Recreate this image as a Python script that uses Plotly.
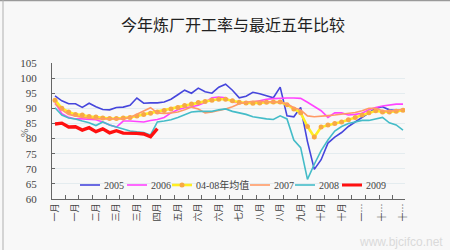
import plotly.graph_objects as go

# ---------------- data ----------------
WEEKS = list(range(1, 53))

Y2005 = [94.1, 92.5, 91.5, 91.5, 90.3, 91.7, 90.5, 89.6, 89.5, 90.3,
         90.4, 91.0, 93.4, 91.7, 91.8, 91.8, 92.1, 93.0, 94.5, 96.0,
         95.0, 96.7, 95.5, 95.0, 97.0, 98.0, 96.0, 93.5, 94.0, 95.3,
         94.8, 94.2, 93.5, 97.0, 87.5, 87.2, 90.3, 79.0, 69.8, 73.0,
         78.5, 80.5, 82.0, 84.0, 85.5, 87.0, 88.5, 90.0, 90.5, 89.5,
         89.3, 89.5]

Y2006 = [92.0, 88.2, 87.0, 86.5, 86.5, 86.3, 86.2, 85.5, 84.5, 83.8,
         85.8, 85.8, 85.6, 85.5, 86.0, 86.3, 87.0, 88.5, 89.5, 90.2,
         90.5, 91.0, 92.0, 93.5, 93.7, 93.5, 92.0, 91.8, 91.8, 92.0,
         92.5, 93.0, 93.2, 93.4, 93.4, 93.4, 93.3, 92.0, 90.5, 89.2,
         87.0, 88.5, 88.5, 87.8, 88.0, 88.4, 89.5, 90.3, 90.8, 91.2,
         91.4, 91.4]

YAVG = [92.7, 90.0, 88.8, 88.0, 87.8, 87.3, 87.1, 86.8, 86.6, 86.6,
        86.8, 87.0, 87.5, 88.0, 88.4, 88.8, 89.3, 89.8, 90.3, 90.9,
        91.4, 91.9, 92.3, 92.7, 93.0, 93.0, 92.5, 92.0, 91.8, 91.7,
        91.8, 92.0, 92.1, 92.1, 91.2, 89.8, 88.5, 84.0, 80.5, 83.8,
        84.5, 85.0, 85.5, 86.2, 87.0, 87.8, 88.5, 89.2, 88.8, 88.8,
        89.0, 89.4]

Y2007 = [91.5, 89.5, 88.0, 87.5, 87.0, 86.8, 86.5, 86.5, 86.5, 86.3,
         86.5, 87.0, 88.0, 89.0, 90.2, 88.5, 88.3, 88.5, 88.8, 89.5,
         90.4, 89.8, 88.5, 88.8, 89.2, 89.8, 90.5, 91.5, 92.0, 92.3,
         92.3, 92.2, 92.2, 92.0, 91.5, 90.2, 89.5, 87.5, 87.2, 87.3,
         87.6, 87.8, 88.0, 88.3, 88.6, 89.2, 90.0, 90.0, 89.2, 89.0,
         89.3, 89.7]

Y2008 = [90.2, 87.8, 86.8, 86.5, 85.8, 85.2, 84.3, 85.5, 84.5, 83.8,
         83.0, 82.5, 82.2, 82.0, 81.2, 85.5, 85.8, 86.2, 87.0, 88.0,
         88.8, 89.0, 89.0, 89.0, 89.5, 89.8, 89.0, 88.5, 88.0, 87.2,
         86.8, 86.5, 86.3, 87.5, 86.5, 79.5, 77.0, 66.5, 71.5, 76.0,
         79.5, 82.5, 84.0, 85.0, 85.5, 86.0, 86.0, 86.5, 87.0, 85.2,
         84.5, 82.8]

Y2009 = [84.8, 85.1, 83.8, 83.9, 82.8, 83.6, 82.3, 83.2, 81.9, 82.6,
         81.8, 81.8, 81.7, 81.5, 80.6, 83.3]

TICK_WEEKS = [1, 4, 7, 10, 13, 16, 19, 22, 25, 28, 31, 34, 37, 40, 43, 46, 49, 52]
TICK_LABELS = ["一月", "一月", "二月", "三月", "三月", "四月", "五月", "六月", "六月",
               "七月", "八月", "八月", "九月", "十月", "十月", "一…", "十…", "十…"]

SERIES_NAMES = ["2005", "2006", "04-08年均值", "2007", "2008", "2009"]
TITLE = "今年炼厂开工率与最近五年比较"

# ---------------- styles ----------------
COLORS = ["#4646dc", "#ff44ff", "#ffee22", "#ff9a66", "#44bcc8", "#ff1010"]
WIDTHS = [1.6, 1.6, 2.6, 1.6, 1.6, 3.4]
MARKER_COLOR = "#f7a845"

L, R, T, B = 52, 45, 63, 51
W, H = 450, 250
PW = W - L - R
PH = H - T - B


def px2paper_x(px):
    return (px - L) / PW


def py2paper_y(py):
    return (H - B - py) / PH


fig = go.Figure()
series = [Y2005, Y2006, YAVG, Y2007, Y2008, Y2009]
for i, (name, ys) in enumerate(zip(SERIES_NAMES, series)):
    kw = {}
    if i == 2:
        kw["marker"] = dict(color=MARKER_COLOR, size=5, line=dict(width=0))
        mode = "lines+markers"
    else:
        mode = "lines"
    fig.add_trace(go.Scatter(
        x=WEEKS[:len(ys)], y=ys, name=name, mode=mode,
        line=dict(color=COLORS[i], width=WIDTHS[i]),
        showlegend=False, **kw))

# ------- manual legend (compact, inside plot) -------
LEG_PX = [80, 127, 172, 250, 295, 342]
LEG_PY = 185
shapes = []
annotations = []
for i, name in enumerate(SERIES_NAMES):
    x0 = LEG_PX[i]
    shapes.append(dict(type="line", xref="paper", yref="paper",
                       x0=px2paper_x(x0), x1=px2paper_x(x0 + 20),
                       y0=py2paper_y(LEG_PY), y1=py2paper_y(LEG_PY),
                       line=dict(color=COLORS[i], width=min(WIDTHS[i], 3))))
    if i == 2:
        cx = x0 + 10
        shapes.append(dict(type="circle", xref="paper", yref="paper",
                           x0=px2paper_x(cx - 2.5), x1=px2paper_x(cx + 2.5),
                           y0=py2paper_y(LEG_PY + 2.5), y1=py2paper_y(LEG_PY - 2.5),
                           fillcolor=MARKER_COLOR, line=dict(width=0)))
    annotations.append(dict(text=name, xref="paper", yref="paper",
                            x=px2paper_x(x0 + 22), y=py2paper_y(LEG_PY),
                            xanchor="left", yanchor="middle", showarrow=False,
                            font=dict(family="Liberation Serif, Noto Sans CJK SC", size=10, color="#444")))

# y-axis unit label
annotations.append(dict(text="%", xref="paper", yref="paper",
                        x=px2paper_x(24), y=py2paper_y(133), textangle=-90,
                        xanchor="center", yanchor="middle", showarrow=False,
                        font=dict(family="Liberation Serif", size=10, color="#555")))
# watermark
annotations.append(dict(text="www.bjcifco.net", xref="paper", yref="paper",
                        x=px2paper_x(445), y=py2paper_y(242),
                        xanchor="right", yanchor="middle", showarrow=False,
                        font=dict(family="Liberation Sans", size=12, color="#dadada")))

# frame of the picture (top and left border)
shapes.append(dict(type="line", xref="paper", yref="paper",
                   x0=px2paper_x(0), x1=px2paper_x(W), y0=py2paper_y(0.5), y1=py2paper_y(0.5),
                   line=dict(color="#9a9a9a", width=1.5)))
shapes.append(dict(type="line", xref="paper", yref="paper",
                   x0=px2paper_x(3), x1=px2paper_x(3), y0=py2paper_y(0), y1=py2paper_y(H),
                   line=dict(color="#b0b0b0", width=1)))

fig.update_layout(
    width=W, height=H,
    margin=dict(l=L, r=R, t=T, b=B, pad=0),
    paper_bgcolor="#f8f8f8",
    plot_bgcolor="#f8f8f8",
    title=dict(text=TITLE, x=233 / W, xref="container", xanchor="center",
               y=1 - 25 / H, yref="container", yanchor="middle",
               font=dict(family="Noto Sans CJK SC", size=16, color="#222")),
    shapes=shapes,
    annotations=annotations,
    showlegend=False,
)

fig.update_xaxes(
    range=[1 - 3 / 6.8235, 52 + 2 / 6.8235],
    tickmode="array", tickvals=TICK_WEEKS, ticktext=TICK_LABELS,
    tickangle=-90, ticks="", showgrid=False, zeroline=False,
    showline=True, linecolor="#666", linewidth=1,
    tickfont=dict(family="Noto Sans CJK SC", size=9, color="#444"),
    minor=dict(ticks="inside", tick0=0.5, dtick=2, ticklen=4, tickcolor="#666", showgrid=False),
)
fig.update_yaxes(
    range=[60, 105], dtick=5, tick0=60,
    showgrid=True, gridcolor="#e4ecef", gridwidth=1, zeroline=False,
    showline=True, linecolor="#666", linewidth=1,
    ticks="inside", ticklen=3, tickcolor="#666",
    ticklabelstandoff=12,
    tickfont=dict(family="Liberation Serif", size=11, color="#444"),
)

fig.write_html("out.html")
